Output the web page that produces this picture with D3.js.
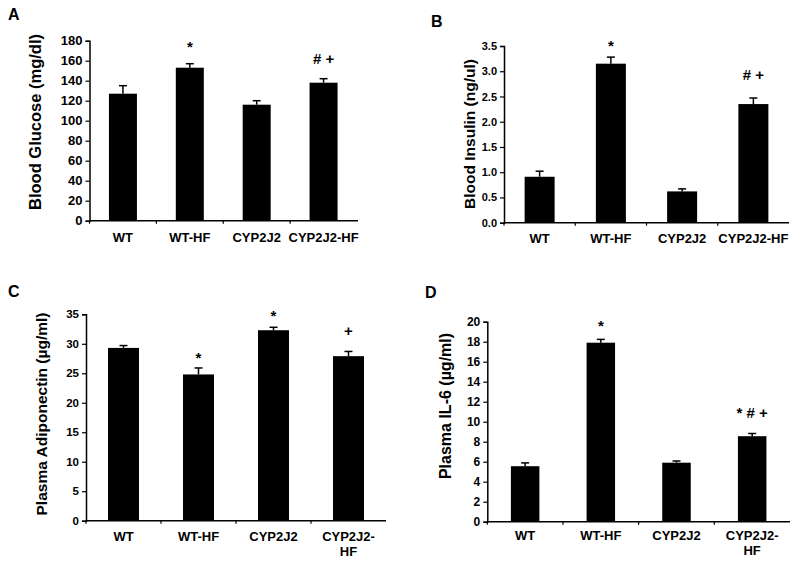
<!DOCTYPE html>
<html>
<head>
<meta charset="utf-8">
<script src="https://cdn.jsdelivr.net/npm/d3@7/dist/d3.min.js"></script>
<style>
  html, body { margin: 0; padding: 0; background: #fff; }
  svg { display: block; font-family: "Liberation Sans", Arial, sans-serif; font-weight: bold; }
</style>
</head>
<body>
<svg id="chart" width="800" height="564"></svg>
<script>
// ---- Data ----
const groups = ["WT", "WT-HF", "CYP2J2", "CYP2J2-HF"];

const glucoseMean = [127, 153, 116, 138];
const glucoseErr  = [8, 4, 4, 4];
const glucoseTicks = [0, 20, 40, 60, 80, 100, 120, 140, 160, 180];
const glucoseMarks = ["", "*", "", "# +"];

const insulinMean = [0.91, 3.15, 0.62, 2.35];
const insulinErr  = [0.11, 0.13, 0.05, 0.12];
const insulinTicks = [0, 0.5, 1.0, 1.5, 2.0, 2.5, 3.0, 3.5];
const insulinMarks = ["", "*", "", "# +"];

const adipoMean = [29.3, 24.8, 32.3, 27.9];
const adipoErr  = [0.4, 1.1, 0.5, 0.8];
const adipoTicks = [0, 5, 10, 15, 20, 25, 30, 35];
const adipoMarks = ["", "*", "*", "+"];

const il6Mean = [5.55, 17.9, 5.9, 8.55];
const il6Err  = [0.33, 0.33, 0.17, 0.27];
const il6Ticks = [0, 2, 4, 6, 8, 10, 12, 14, 16, 18, 20];
const il6Marks = ["", "*", "", "* # +"];

// ---- Layout (positions/styles only) ----
const panels = [
  { letter: "A", lx: 8, ly: 20, mean: glucoseMean, err: glucoseErr, ticks: glucoseTicks, marks: glucoseMarks,
    max: 180, fmt: d3.format("d"), title: "Blood Glucose (mg/dl)", titleSize: 16.5, titleX: 35, titleY: 122,
    x0: 89.5, x1: 357, axisEnd: 358, y0: 220.7, y1: 40.7, barW: 28, tickSize: 13,
    labelY: [237], wrap: false, markGap: [0, 12, 0, 15] },
  { letter: "B", lx: 431, ly: 27, mean: insulinMean, err: insulinErr, ticks: insulinTicks, marks: insulinMarks,
    max: 3.5, fmt: d3.format(".1f"), title: "Blood Insulin (ng/ul)", titleSize: 15.5, titleX: 470, titleY: 134,
    x0: 504, x1: 789, axisEnd: 789, y0: 222.7, y1: 46, barW: 30, tickSize: 11,
    labelY: [238], wrap: false, markGap: [0, 6, 0, 18] },
  { letter: "C", lx: 8, ly: 297, mean: adipoMean, err: adipoErr, ticks: adipoTicks, marks: adipoMarks,
    max: 35, fmt: d3.format("d"), title: "Plasma Adiponectin (\u00b5g/ml)", titleSize: 15.5, titleX: 41.5, titleY: 414,
    x0: 86, x1: 386, axisEnd: 386, y0: 520.7, y1: 314.3, barW: 31, tickSize: 11.5,
    labelY: [536.7, 551.7], wrap: true, markGap: [0, 5, 6, 15] },
  { letter: "D", lx: 425, ly: 298, mean: il6Mean, err: il6Err, ticks: il6Ticks, marks: il6Marks,
    max: 20, fmt: d3.format("d"), title: "Plasma IL-6 (\u00b5g/ml)", titleSize: 16, titleX: 445, titleY: 406,
    x0: 487.3, x1: 790, axisEnd: 790, y0: 521.7, y1: 321.7, barW: 28.5, tickSize: 12,
    labelY: [535, 550], wrap: true, markGap: [0, 8, 0, 16] }
];

const svg = d3.select("#chart");

panels.forEach(p => {
  const g = svg.append("g");
  const x = d3.scaleBand().domain(groups).range([p.x0, p.x1]);
  const y = d3.scaleLinear().domain([0, p.max]).range([p.y0, p.y1]);

  // panel letter
  g.append("text").attr("x", p.lx).attr("y", p.ly)
    .attr("font-size", 16).attr("fill", "#000").text(p.letter);

  // bars
  g.selectAll("rect.bar").data(groups).enter().append("rect")
    .attr("x", d => x(d) + (x.bandwidth() - p.barW) / 2)
    .attr("y", (d, i) => y(p.mean[i]))
    .attr("width", p.barW)
    .attr("height", (d, i) => y(0) - y(p.mean[i]))
    .attr("fill", "#000");

  // error bars (upper only)
  groups.forEach((d, i) => {
    const cx = x(d) + x.bandwidth() / 2;
    const top = y(p.mean[i] + p.err[i]);
    g.append("line").attr("x1", cx).attr("x2", cx)
      .attr("y1", y(p.mean[i])).attr("y2", top)
      .attr("stroke", "#000").attr("stroke-width", 1.5);
    g.append("line").attr("x1", cx - 4).attr("x2", cx + 4)
      .attr("y1", top).attr("y2", top)
      .attr("stroke", "#000").attr("stroke-width", 1.5);
    if (p.marks[i]) {
      g.append("text").attr("x", cx).attr("y", top - p.markGap[i])
        .attr("text-anchor", "middle").attr("font-size", 15).attr("fill", "#000")
        .text(p.marks[i]);
    }
  });

  // y axis
  const yAxis = d3.axisLeft(y).tickValues(p.ticks).tickFormat(p.fmt).tickSizeOuter(0).tickSize(4).tickPadding(3);
  const ya = g.append("g").attr("transform", `translate(${p.x0},0)`).call(yAxis);
  ya.select(".domain").attr("stroke", "#000").attr("stroke-width", 1.5);
  ya.selectAll(".tick line").attr("stroke", "#000").attr("stroke-width", 1.2);
  ya.selectAll(".tick text").attr("font-size", p.tickSize).attr("font-weight", "bold")
    .attr("font-family", "Liberation Sans, Arial, sans-serif").attr("fill", "#000");

  // x axis line with small tick marks at band boundaries
  g.append("line").attr("x1", p.x0).attr("x2", p.axisEnd)
    .attr("y1", p.y0).attr("y2", p.y0).attr("stroke", "#000").attr("stroke-width", 1.5);
  groups.forEach(d => {
    const bx = x(d);
    g.append("line").attr("x1", bx).attr("x2", bx).attr("y1", p.y0).attr("y2", p.y0 + 3)
      .attr("stroke", "#000").attr("stroke-width", 1.2);
  });

  // x labels
  groups.forEach(d => {
    const cx = x(d) + x.bandwidth() / 2;
    let lines = [d];
    if (p.wrap && d === "CYP2J2-HF") lines = ["CYP2J2-", "HF"];
    lines.forEach((t, k) => {
      g.append("text").attr("x", cx).attr("y", p.labelY[k])
        .attr("dy", "0.35em").attr("text-anchor", "middle")
        .attr("font-size", 13).attr("fill", "#000").text(t);
    });
  });

  // y title
  g.append("text")
    .attr("transform", `translate(${p.titleX},${p.titleY}) rotate(-90)`)
    .attr("text-anchor", "middle").attr("dy", "0.35em")
    .attr("font-size", p.titleSize).attr("fill", "#000").text(p.title);
});
</script>
</body>
</html>
